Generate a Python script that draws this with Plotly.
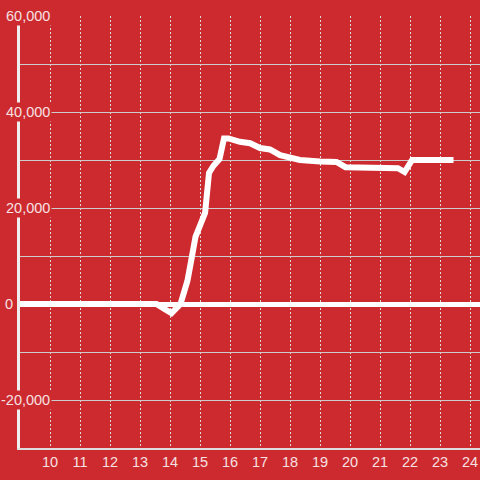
import plotly.graph_objects as go

# Data
hours = [9.0, 13.55, 13.8, 14.05, 14.35, 14.58, 14.72, 14.85, 15.17, 15.3, 15.45,
         15.65, 15.8, 15.95, 16.33, 16.67, 17.0, 17.33, 17.67, 18.0, 18.33, 19.0,
         19.55, 19.85, 21.0, 21.6, 21.82, 22.07, 23.45]
values = [0, 0, -1000, -1900, 0, 4800, 9500, 14000, 19000, 27300, 28800,
          30200, 34500, 34500, 33800, 33500, 32500, 32200, 31000, 30400, 30000, 29700,
          29600, 28500, 28500, 28300, 27500, 30000, 30000]

x_ticks = list(range(10, 25))
y_label_values = [60000, 40000, 20000, 0, -20000]
y_label_texts = ["60,000", "40,000", "20,000", "0", "-20,000"]

BG = "#cd2a30"
TXT = "#f5e1e1"
FONT = "Arial, Liberation Sans, sans-serif"
L, R, T, B = 20, 0, 16, 32
PW = 480 - L - R

fig = go.Figure()
fig.add_trace(go.Scatter(x=hours, y=values, mode="lines",
                         line=dict(color="#ffffff", width=6),
                         hoverinfo="skip", showlegend=False))

annotations = []
for v, t in zip(y_label_values, y_label_texts):
    right_px = 15 if t == "0" else 52
    annotations.append(dict(xref="paper", yref="y", x=(right_px - L) / PW, y=v,
                            xanchor="right", yanchor="middle", text=t,
                            showarrow=False, bgcolor=BG, borderpad=1,
                            font=dict(family=FONT, size=14.5, color=TXT)))

fig.update_layout(
    width=480, height=480,
    paper_bgcolor=BG, plot_bgcolor=BG,
    margin=dict(l=L, r=R, t=T, b=B),
    showlegend=False,
    annotations=annotations,
    xaxis=dict(range=[9, 24 + 1/3], tickvals=x_ticks, ticktext=[str(v) for v in x_ticks],
               showgrid=True, gridcolor="#dcdcdc", gridwidth=1, griddash="2px,2px",
               showline=True, linecolor="#dddddd", linewidth=2,
               zeroline=False, ticks="", ticklen=0,
               tickfont=dict(family=FONT, size=14.5, color=TXT)),
    yaxis=dict(range=[-30000, 60000], dtick=10000, showticklabels=False,
               showgrid=True, gridcolor="#cccccc", gridwidth=1,
               zeroline=True, zerolinecolor="#ffffff", zerolinewidth=5,
               showline=True, linecolor="#eeeeee", linewidth=3, ticks=""),
)

fig.write_html("out.html", config={"displayModeBar": False},
               post_script="document.body.style.margin='0';")
